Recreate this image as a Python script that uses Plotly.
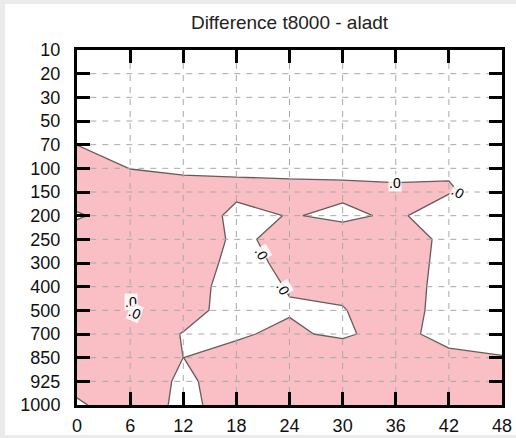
import plotly.graph_objects as go

# Forecast hour (x) and pressure level (y, hPa, top to bottom)
hours = [0, 6, 12, 18, 24, 30, 36, 42, 48]
levels = ["10", "20", "30", "50", "70", "100", "150", "200", "250",
          "300", "400", "500", "700", "850", "925", "1000"]

# Temperature difference t8000 - aladt per level, one value per forecast hour
d10 = [-2.1, -2.0, -1.9, -1.8, -1.9, -2.0, -2.1, -2.2, -2.3]
d20 = [-1.8, -1.7, -1.6, -1.6, -1.7, -1.8, -1.9, -2.0, -2.1]
d30 = [-1.5, -1.4, -1.4, -1.5, -1.6, -1.6, -1.7, -1.8, -1.9]
d50 = [-1.1, -1.2, -1.3, -1.4, -1.5, -1.6, -1.7, -1.6, -1.8]
d70 = [-0.02, -0.9, -1.2, -1.4, -1.5, -1.6, -1.7, -1.2, -1.6]
d100 = [1.0, -0.03, -0.4, -1.08, -0.8, -1.0, -1.5, -0.34, -1.5]
d150 = [1.0, 1.0, 1.0, 1.84, 1.0, 1.0, 1.0, 0.3, -1.41]
d200 = [-0.2, 0.9, 6.97, -2.54, 0.39, -1.17, 0.89, -2.94, -3.0]
d250 = [1.0, 1.0, 4.0, -1.0, 1.61, 3.16, 2.16, -1.0, -2.0]
d300 = [1.0, 1.0, 2.0, -1.0, 0.64, 2.0, 1.73, -1.0, -2.0]
d400 = [1.0, 1.0, 1.1, -1.0, 0.13, 1.0, 1.4, -1.0, -2.0]
d500 = [1.0, -0.02, 0.9, -0.96, -0.17, -0.25, 2.75, -2.25, -2.0]
d700 = [1.0, 1.4, -0.1, -0.23, 0.4, -0.48, 1.31, -1.5, -1.8]
d850 = [1.0, 1.5, -0.005, 0.59, 1.0, 1.92, 1.5, 1.0, 0.2]
d925 = [1.17, 3.6, -1.0, 2.53, 2.0, 2.0, 2.0, 2.0, 2.0]
d1000 = [-0.5, 2.0, -0.79, 1.36, 2.0, 2.0, 2.0, 2.0, 2.0]

diff = [d10, d20, d30, d50, d70, d100, d150, d200, d250,
        d300, d400, d500, d700, d850, d925, d1000]

# Labels of the zero contour: (hour, level index, text angle)
zero_labels = [
    (35.9, 5.62, 0), (43.0, 6.0, 30), (20.9, 8.6, 60),
    (23.3, 10.1, 60), (6.1, 10.65, 0), (6.55, 11.1, 23),
]

PINK = "#f9bfc4"
LINE = "#6a5a5a"
FONT = "Liberation Sans, Arial, sans-serif"

level_idx = list(range(len(levels)))

fig = go.Figure(go.Contour(
    x=hours, y=level_idx, z=diff,
    autocontour=False,
    contours=dict(start=0, end=0, size=1, coloring="fill", showlines=True),
    colorscale=[[0, "white"], [1, PINK]],
    line=dict(color=LINE, width=1.3, smoothing=0),
    showscale=False, hoverinfo="skip",
))

# Dashed grid drawn over the shading, kept clear of the inward ticks
shapes = []
x_inset, y_inset = 1.5, 0.55
for h in hours[1:-1]:
    shapes.append(dict(type="line", xref="x", yref="y", x0=h, x1=h,
                       y0=y_inset, y1=level_idx[-1] - y_inset,
                       line=dict(color="#a8a8a8", width=1, dash="6px,6px"),
                       layer="above"))
for k in level_idx[1:-1]:
    shapes.append(dict(type="line", xref="x", yref="y", y0=k, y1=k,
                       x0=hours[0] + x_inset, x1=hours[-1] - x_inset,
                       line=dict(color="#a8a8a8", width=1, dash="6px,6px"),
                       layer="above"))
# White page panel on the grey window background
shapes.append(dict(type="rect", xref="paper", yref="paper",
                   x0=-0.1694, x1=1.04, y0=-0.0845, y1=1.1296,
                   fillcolor="white", line=dict(width=0), layer="below"))

annotations = [
    dict(x=h, y=k, xref="x", yref="y", text=".0", showarrow=False,
         textangle=a, font=dict(family=FONT, size=14, color="black"),
         bgcolor="rgba(255,255,255,0.85)", borderpad=0)
    for h, k, a in zero_labels
]

axis_style = dict(
    ticks="inside", ticklen=13, tickwidth=3, tickcolor="black",
    showline=True, linewidth=3, linecolor="black", mirror="ticks",
    showgrid=False, zeroline=False, layer="above traces", automargin=False,
    tickfont=dict(family=FONT, size=18, color="#111111"),
)

fig.update_layout(
    width=516, height=438, autosize=False,
    margin=dict(l=77, r=14, t=50, b=33),
    paper_bgcolor="#ebebeb", plot_bgcolor="white",
    title=dict(text="Difference t8000 - aladt", x=0.5, xref="paper",
               xanchor="center", y=1 - 22 / 438, yanchor="middle",
               font=dict(family=FONT, size=19, color="#222222")),
    xaxis=dict(range=[0, 48], tickvals=hours, ticklabelstandoff=2, **axis_style),
    yaxis=dict(range=[level_idx[-1], 0], tickvals=level_idx, ticktext=levels,
               ticklabelstandoff=10, **axis_style),
    shapes=shapes, annotations=annotations, showlegend=False,
)

fig.write_html("out.html")
